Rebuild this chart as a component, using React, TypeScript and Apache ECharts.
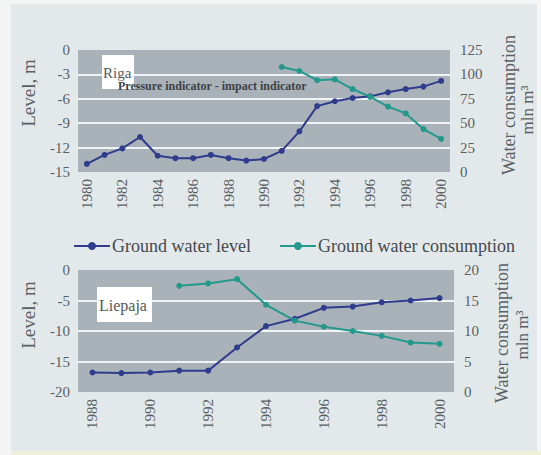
import React, { useEffect, useRef } from "react";
import * as echarts from "echarts";

// Riga, 1980–2000
const rigaYears = [
  "1980", "1981", "1982", "1983", "1984", "1985", "1986", "1987", "1988", "1989", "1990",
  "1991", "1992", "1993", "1994", "1995", "1996", "1997", "1998", "1999", "2000",
];
const rigaLevel = [
  -14.0, -12.9, -12.1, -10.7, -13.0, -13.3, -13.3, -12.9, -13.3, -13.6, -13.4,
  -12.4, -10.0, -6.9, -6.3, -5.9, -5.7, -5.2, -4.8, -4.5, -3.8,
];
const rigaConsumption = [
  null, null, null, null, null, null, null, null, null, null, null,
  107.6, 103.5, 94, 95, 85, 77, 67, 60, 44, 34,
];

// Liepaja, 1988–2000
const liepajaYears = [
  "1988", "1989", "1990", "1991", "1992", "1993", "1994", "1995", "1996", "1997", "1998", "1999", "2000",
];
const liepajaLevel = [-16.8, -16.9, -16.8, -16.5, -16.5, -12.7, -9.2, -8.0, -6.2, -6.0, -5.3, -5.0, -4.6];
const liepajaConsumption = [null, null, null, 17.4, 17.8, 18.5, 14.3, 11.7, 10.7, 10.0, 9.2, 8.1, 7.9];

const LEVEL_NAME = "Ground water level";
const CONS_NAME = "Ground water consumption";

const FONT = "Liberation Serif";
const TEXT = "#5a5f63";
const BLUE = "#2f3b8c";
const TEAL = "#23998c";
const PLOT_BG = "#aab2b9";
const GRID_LINE = "#f1f4f6";

export default function App() {
  const ref = useRef<HTMLDivElement>(null);

  useEffect(() => {
    if (!ref.current) return;
    const chart = echarts.init(ref.current, undefined, { renderer: "svg" });

    const catAxis = (gridIndex: number, data: string[]) => ({
      type: "category" as const,
      gridIndex,
      data,
      boundaryGap: true,
      axisLine: { show: false },
      axisTick: { show: false },
      axisLabel: {
        rotate: 90,
        interval: 1,
        color: TEXT,
        fontFamily: FONT,
        fontSize: 15,
        margin: 7,
      },
    });

    const levelAxis = (gridIndex: number, min: number, interval: number, n: number) => {
      const colors: string[] = [];
      for (let i = 0; i <= n; i++) colors.push(i === 0 || i === n ? "transparent" : GRID_LINE);
      return {
        type: "value" as const,
        gridIndex,
        min,
        max: 0,
        interval,
        axisLine: { show: false },
        axisTick: { show: false },
        axisLabel: { color: TEXT, fontFamily: FONT, fontSize: 15, margin: 8 },
        splitLine: { show: true, lineStyle: { color: colors, width: 2 } },
      };
    };

    const consAxis = (gridIndex: number, max: number, interval: number) => ({
      type: "value" as const,
      gridIndex,
      position: "right" as const,
      min: 0,
      max,
      interval,
      axisLine: { show: false },
      axisTick: { show: false },
      axisLabel: { color: TEXT, fontFamily: FONT, fontSize: 15, margin: 10 },
      splitLine: { show: false },
    });

    const lineSeries = (
      name: string,
      color: string,
      xAxisIndex: number,
      yAxisIndex: number,
      data: (number | null)[]
    ) => ({
      type: "line" as const,
      name,
      xAxisIndex,
      yAxisIndex,
      data,
      symbol: "circle",
      symbolSize: 6,
      itemStyle: { color },
      lineStyle: { color, width: 2 },
      connectNulls: false,
    });

    const vText = (text: string, x: number, y: number, size = 16) => ({
      type: "text" as const,
      x,
      y,
      rotation: Math.PI / 2,
      style: {
        text,
        fill: TEXT,
        font: `${size}px ${FONT}`,
        align: "center",
        verticalAlign: "middle",
      },
    });

    chart.setOption({
      animation: false,
      backgroundColor: "#f3f5f5",
      textStyle: { fontFamily: FONT },
      grid: [
        { left: 78, top: 50, width: 372, height: 122, show: true, backgroundColor: PLOT_BG, borderWidth: 0 },
        { left: 78, top: 270, width: 376, height: 122, show: true, backgroundColor: PLOT_BG, borderWidth: 0 },
      ],
      xAxis: [catAxis(0, rigaYears), catAxis(1, liepajaYears)],
      yAxis: [
        levelAxis(0, -15, 3, 5),
        consAxis(0, 125, 25),
        levelAxis(1, -20, 5, 4),
        consAxis(1, 20, 5),
      ],
      legend: {
        left: 68,
        top: 232,
        itemWidth: 36,
        itemHeight: 10,
        itemGap: 28,
        data: [LEVEL_NAME, CONS_NAME],
        textStyle: { color: "#44494d", fontFamily: FONT, fontSize: 18, padding: [0, 0, 0, -3] },
      },
      series: [
        lineSeries(LEVEL_NAME, BLUE, 0, 0, rigaLevel),
        lineSeries(CONS_NAME, TEAL, 0, 1, rigaConsumption),
        lineSeries(LEVEL_NAME, BLUE, 1, 2, liepajaLevel),
        lineSeries(CONS_NAME, TEAL, 1, 3, liepajaConsumption),
      ],
      graphic: [
        // outer panel
        {
          type: "rect",
          z: -10,
          silent: true,
          shape: { x: 11, y: 4, width: 526, height: 447 },
          style: { fill: "#e3e9eb" },
        },
        {
          type: "rect",
          z: -10,
          silent: true,
          shape: { x: 11, y: 451, width: 530, height: 4 },
          style: { fill: "#eef0da" },
        },
        // axis names
        vText("Level, m", 28, 93, 19),
        vText("Water consumption", 509, 105, 18),
        vText("mln m³", 527, 110, 17),
        vText("Level, m", 28, 315, 19),
        vText("Water consumption", 502, 333, 18),
        vText("mln m³", 522, 335, 17),
        // Riga label
        {
          type: "rect",
          z: 10,
          shape: { x: 102, y: 55, width: 32, height: 34 },
          style: { fill: "#ffffff" },
        },
        {
          type: "text",
          z: 11,
          x: 103,
          y: 73,
          style: {
            text: "Riga",
            fill: "#55595c",
            font: `15px ${FONT}`,
            verticalAlign: "middle",
          },
        },
        {
          type: "text",
          z: 11,
          x: 118,
          y: 86,
          style: {
            text: "Pressure indicator - impact indicator",
            fill: "#3d4145",
            font: `bold 12px ${FONT}`,
            verticalAlign: "middle",
          },
        },
        // Liepaja label
        {
          type: "rect",
          z: 10,
          shape: { x: 97, y: 287, width: 55, height: 35 },
          style: { fill: "#ffffff" },
        },
        {
          type: "text",
          z: 11,
          x: 99,
          y: 305,
          style: {
            text: "Liepaja",
            fill: "#55595c",
            font: `16px ${FONT}`,
            verticalAlign: "middle",
          },
        },
      ],
    });

    return () => chart.dispose();
  }, []);

  return (
    <div
      ref={ref}
      style={{ position: "fixed", left: 0, top: 0, width: 541, height: 455 }}
    />
  );
}
